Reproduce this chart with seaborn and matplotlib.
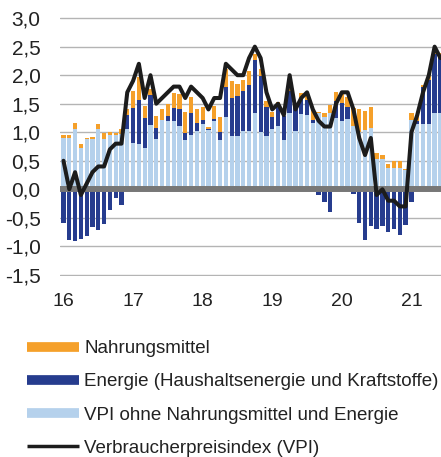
import numpy as np
import pandas as pd
import matplotlib
matplotlib.use("Agg")
import matplotlib.pyplot as plt
from matplotlib.lines import Line2D
import seaborn as sns

# Monthly data Jan 2016 .. Jun 2021 (contributions in percentage points)
core = [0.90, 0.90, 1.06, 0.73, 0.89, 0.89, 1.05, 0.89, 0.96, 0.96, 0.97, 1.05,
        0.82, 0.80, 0.73, 1.12, 0.89, 1.21, 1.19, 1.19, 1.11, 0.87, 0.96, 1.02,
        1.14, 1.04, 1.19, 0.87, 1.27, 0.94, 0.94, 1.03, 1.02, 1.34, 1.00, 0.94,
        1.06, 1.11, 0.87, 1.34, 1.02, 1.32, 1.31, 1.17, 1.33, 1.26, 1.33, 1.25,
        1.19, 1.24, 1.11, 1.01, 1.04, 1.08, 0.53, 0.53, 0.38, 0.38, 0.38, 0.33,
        1.22, 1.15, 1.15, 1.15, 1.33, 1.33]
energy = [-0.59, -0.89, -0.91, -0.87, -0.82, -0.66, -0.72, -0.60, -0.37, -0.15, -0.27, 0.26,
          0.60, 0.76, 0.52, 0.53, 0.19, 0.00, 0.09, 0.24, 0.29, 0.12, 0.38, 0.15,
          0.07, 0.02, 0.05, 0.13, 0.52, 0.66, 0.69, 0.69, 0.80, 0.93, 0.99, 0.50,
          0.21, 0.36, 0.41, 0.38, 0.45, 0.27, 0.25, 0.05, -0.10, -0.22, -0.39, 0.30,
          0.33, 0.21, -0.09, -0.59, -0.89, -0.64, -0.70, -0.65, -0.74, -0.70, -0.80, -0.62,
          -0.23, 0.05, 0.64, 0.77, 1.04, 1.00]
food = [0.06, 0.05, 0.10, 0.06, 0.01, 0.02, 0.10, 0.09, 0.05, 0.02, 0.09, 0.09,
        0.30, 0.40, 0.21, 0.10, 0.20, 0.20, 0.21, 0.25, 0.27, 0.36, 0.27, 0.23,
        0.24, 0.04, 0.22, 0.27, 0.31, 0.29, 0.22, 0.20, 0.26, 0.10, 0.12, 0.10,
        0.08, 0.06, 0.00, 0.03, 0.03, 0.09, 0.08, 0.18, 0.03, 0.08, 0.15, 0.15,
        0.17, 0.17, 0.31, 0.39, 0.34, 0.37, 0.11, 0.07, 0.06, 0.12, 0.12, 0.03,
        0.12, 0.08, 0.03, 0.06, 0.06, 0.06]
vpi = [0.5, 0.0, 0.3, -0.1, 0.1, 0.3, 0.4, 0.4, 0.7, 0.8, 0.8, 1.7,
       1.9, 2.2, 1.6, 2.0, 1.5, 1.6, 1.7, 1.8, 1.8, 1.6, 1.8, 1.7,
       1.6, 1.4, 1.6, 1.6, 2.2, 2.1, 2.0, 2.0, 2.3, 2.5, 2.3, 1.7,
       1.4, 1.5, 1.3, 2.0, 1.4, 1.6, 1.7, 1.4, 1.2, 1.1, 1.1, 1.5,
       1.7, 1.7, 1.4, 0.9, 0.6, 0.9, -0.1, 0.0, -0.2, -0.2, -0.3, -0.3,
       1.0, 1.3, 1.7, 2.0, 2.5, 2.3]
year_labels = ["16", "17", "18", "19", "20", "21"]
y_ticks = [-1.5, -1.0, -0.5, 0.0, 0.5, 1.0, 1.5, 2.0, 2.5, 3.0]

labels = ["Nahrungsmittel",
          "Energie (Haushaltsenergie und Kraftstoffe)",
          "VPI ohne Nahrungsmittel und Energie",
          "Verbraucherpreisindex (VPI)"]
c_food = "#F5A02A"
c_energy = "#263C8E"
c_core = "#B5D1EC"
c_line = "#1C1C1C"

n = len(core)
idx = np.arange(n)
core_a = np.array(core)
en_a = np.array(energy)
food_a = np.array(food)
pos_en = np.clip(en_a, 0, None)
neg_en = np.clip(en_a, None, 0)

df = pd.DataFrame({
    "m": idx,
    "top_food": core_a + pos_en + food_a,
    "top_energy": core_a + pos_en,
    "top_core": core_a,
    "neg_energy": neg_en,
    "vpi": vpi,
})

sns.set_theme(style="white")
plt.rcParams["font.family"] = ["Liberation Sans", "DejaVu Sans"]

fig = plt.figure(figsize=(4.41, 4.57), dpi=100)
ax = fig.add_axes([60 / 441, 1 - 276 / 457, 1 - 60 / 441, 259 / 457])

bw = 0.74
for col, c in [("top_food", c_food), ("top_energy", c_energy),
               ("top_core", c_core), ("neg_energy", c_energy)]:
    sns.barplot(data=df, x="m", y=col, color=c, saturation=1, width=bw,
                errorbar=None, ax=ax, linewidth=0, zorder=2)

ax.axhline(0, color="#777777", lw=4.3, zorder=3)
sns.lineplot(data=df, x="m", y="vpi", color=c_line, lw=2.9, ax=ax, zorder=4)

ax.set_ylim(-1.52, 3.02)
ax.set_xlim(-0.6, n - 0.9)
ax.set_yticks(y_ticks)
ax.set_yticklabels([f"{v:.1f}".replace(".", ",") for v in y_ticks])
ax.set_xticks(np.arange(0, n, 12))
ax.set_xticklabels(year_labels)
ax.set_xlabel("")
ax.set_ylabel("")
for v in y_ticks:
    if v != 0:
        ax.axhline(v, color="#b4b4b4", lw=1.0, zorder=1)
for s in ax.spines.values():
    s.set_visible(False)
ax.tick_params(axis="both", length=0, colors="#222222")
ax.tick_params(axis="y", pad=14, labelsize=15)
ax.tick_params(axis="x", pad=12, labelsize=14)

handles = [Line2D([], [], color=c_food, lw=7, solid_capstyle="butt"),
           Line2D([], [], color=c_energy, lw=7, solid_capstyle="butt"),
           Line2D([], [], color=c_core, lw=7, solid_capstyle="butt"),
           Line2D([], [], color=c_line, lw=2.5, solid_capstyle="butt")]
fig.legend(handles, labels, loc="upper left", bbox_to_anchor=(27 / 441, 1 - 340 / 457),
           frameon=False, fontsize=13.5, handlelength=2.75, handletextpad=0.3,
           labelspacing=0.86, borderpad=0, borderaxespad=0, labelcolor="#222222")

fig.savefig("out.png", dpi=100)
